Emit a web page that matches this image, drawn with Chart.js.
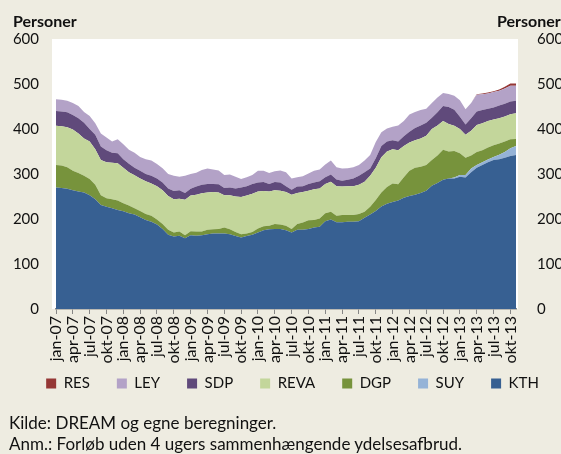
<!DOCTYPE html>
<html>
<head>
<meta charset="utf-8">
<script src="https://cdn.jsdelivr.net/npm/chart.js@4.4.0/dist/chart.umd.min.js"></script>
<style>
  html, body { margin: 0; padding: 0; background: #EEECE1; }
  #wrap { position: relative; width: 561px; height: 454px; overflow: hidden; font-family: Lato, sans-serif; color: #111; }
  #chart { position: absolute; left: 0; top: 0; }
  .unit { position: absolute; top: 11px; font-weight: bold; font-size: 16px; white-space: nowrap; }
  .note { position: absolute; left: 9px; font-size: 17px; white-space: nowrap; }
</style>
</head>
<body>
<div id="wrap">
  <canvas id="chart" width="561" height="454"></canvas>
  <div class="unit" style="left:13px">Personer</div>
  <div class="unit" style="left:497px">Personer</div>
  <div class="note" style="top:412px">Kilde: DREAM og egne beregninger.</div>
  <div class="note" style="top:433px">Anm.: Forløb uden 4 ugers sammenhængende ydelsesafbrud.</div>
</div>
<script>
// months jan-07 .. nov-13
const monthNames = ['jan', 'feb', 'mar', 'apr', 'maj', 'jun', 'jul', 'aug', 'sep', 'okt', 'nov', 'dec'];
const years = ['07', '08', '09', '10', '11', '12', '13'];
const labels = [];
years.forEach(y => monthNames.forEach(m => labels.push(m + '-' + y)));
labels.splice(83);

const yTicks = [0, 100, 200, 300, 400, 500, 600];

const kth = [270,269,267,264,261,259,253,244,231,227,224,220,217,213,210,204,198,194,188,178,
  165,161,163,157,164,163,164,166,168,168,168,166,162,159,162,165,170,175,177,178,
  178,175,170,176,176,178,181,183,195,199,193,193,194,194,195,203,210,218,228,234,
  238,241,247,251,254,258,263,274,280,287,290,290,294,292,304,314,320,326,331,333,
  336,340,342];
const suy = [0,0,0,0,0,0,0,0,0,0,0,0,0,0,0,0,0,0,0,0,
  0,0,0,0,0,0,0,0,0,0,0,0,0,0,0,0,0,0,0,0,
  0,0,0,0,0,0,0,0,0,0,0,0,0,0,0,0,0,0,0,0,
  0,0,0,0,0,0,0,0,0,0,0,2,4,6,8,6,6,6,7,10,
  13,17,20];
const dgp = [50,50,48,43,41,37,36,32,22,19,20,21,18,17,14,14,13,13,11,11,
  11,9,9,7,9,9,8,10,9,10,13,11,9,7,6,6,9,9,8,11,
  10,10,8,13,16,19,17,18,18,17,14,16,15,15,16,13,17,24,31,37,
  41,36,46,56,60,58,57,57,61,67,60,59,48,38,29,29,27,27,26,25,
  23,20,16];
const reva = [87,87,89,92,88,83,83,79,78,80,81,83,79,74,73,72,73,72,74,75,
  75,74,73,79,79,82,85,83,83,81,72,76,79,83,84,85,82,78,76,75,
  75,75,76,69,68,66,68,67,65,67,66,63,64,64,65,67,69,72,78,79,
  76,76,69,63,61,63,65,69,67,64,61,56,54,51,55,60,60,59,57,56,
  56,56,57];
const sdp = [33,33,33,32,34,35,28,32,30,27,22,22,19,19,17,17,16,17,17,17,
  17,18,19,15,15,18,19,19,18,18,16,17,18,21,21,22,20,20,17,18,
  18,13,11,14,13,15,15,16,15,16,15,13,14,17,20,21,16,21,25,22,
  20,19,22,24,27,29,29,25,29,33,38,36,27,23,28,30,29,27,27,28,
  28,28,28];
const ley = [26,26,26,27,27,24,29,26,29,28,25,31,33,31,33,31,33,34,32,32,
  32,34,30,38,33,31,33,34,32,31,29,29,26,19,20,20,26,25,24,24,
  27,31,25,21,22,23,26,26,28,31,27,27,26,25,24,26,30,36,31,29,
  30,36,34,38,36,34,31,33,33,29,29,31,37,34,34,37,35,34,34,33,
  34,35,33];
const res = [0,0,0,0,0,0,0,0,0,0,0,0,0,0,0,0,0,0,0,0,
  0,0,0,0,0,0,0,0,0,0,0,0,0,0,0,0,0,0,0,0,
  0,0,0,0,0,0,0,0,0,0,0,0,0,0,0,0,0,0,0,0,
  0,0,0,0,0,0,0,0,0,0,0,0,0,0,0,1,2,2,2,3,
  4,5,5];

const series = [
  { label: 'KTH', data: kth, color: '#376092' },
  { label: 'SUY', data: suy, color: '#95B3D7' },
  { label: 'DGP', data: dgp, color: '#77933C' },
  { label: 'REVA', data: reva, color: '#C3D69B' },
  { label: 'SDP', data: sdp, color: '#604A7B' },
  { label: 'LEY', data: ley, color: '#B3A2C7' },
  { label: 'RES', data: res, color: '#953735' }
];

Chart.defaults.font.family = 'Lato, sans-serif';
Chart.defaults.color = '#111';

const plotBg = {
  id: 'plotBg',
  beforeDraw(chart) {
    const a = chart.chartArea;
    const c = chart.ctx;
    c.save();
    c.fillStyle = '#ffffff';
    c.fillRect(a.left - 4, a.top, a.right - a.left + 6, a.bottom - a.top);
    c.restore();
  }
};

// pull the legend up under the rotated month labels
const legendShift = {
  id: 'legendShift',
  afterLayout(chart) {
    const lg = chart.legend;
    lg.top -= 15; lg.bottom -= 15;
    lg.left += 8; lg.right += 8;
  }
};

const yAxis = (pos) => ({
  position: pos,
  min: 0,
  max: 600,
  afterBuildTicks: s => { s.ticks = yTicks.map(v => ({ value: v })); },
  afterFit: s => { s.width = pos === 'left' ? 48 : 45; },
  grid: { display: false, drawTicks: false },
  border: { display: false },
  ticks: { padding: pos === 'left' ? 17 : 21, font: { size: 15 }, color: '#111' }
});

new Chart(document.getElementById('chart'), {
  type: 'line',
  data: {
    labels: labels,
    datasets: series.map((s, i) => ({
      label: s.label,
      data: s.data,
      backgroundColor: s.color,
      borderColor: s.color,
      borderWidth: 0,
      pointRadius: 0,
      pointHoverRadius: 0,
      tension: 0,
      fill: i === 0 ? 'origin' : '-1',
      yAxisID: 'y'
    }))
  },
  options: {
    responsive: false,
    animation: false,
    layout: { padding: { top: 39, left: 8, right: 0, bottom: 38 } },
    plugins: {
      tooltip: { enabled: false },
      legend: {
        position: 'bottom',
        reverse: true,
        labels: { boxWidth: 10, boxHeight: 10, padding: 27, font: { size: 15 }, color: '#111' }
      }
    },
    scales: {
      x: {
        offset: false,
        afterFit: s => { s.height = 55; },
        grid: {
          drawOnChartArea: false,
          tickLength: 5,
          tickColor: ctx => (ctx.index % 3 === 0 ? '#868686' : 'rgba(0,0,0,0)')
        },
        border: { color: '#868686', width: 1.5 },
        ticks: {
          autoSkip: false,
          maxRotation: 90,
          minRotation: 90,
          padding: 2,
          font: { size: 16 },
          color: '#111',
          callback: (v, i) => (i % 3 === 0 ? labels[i] : '')
        }
      },
      y: Object.assign(yAxis('left'), { stacked: true }),
      y2: Object.assign(yAxis('right'), { display: true })
    }
  },
  plugins: [plotBg, legendShift]
});
</script>
</body>
</html>
